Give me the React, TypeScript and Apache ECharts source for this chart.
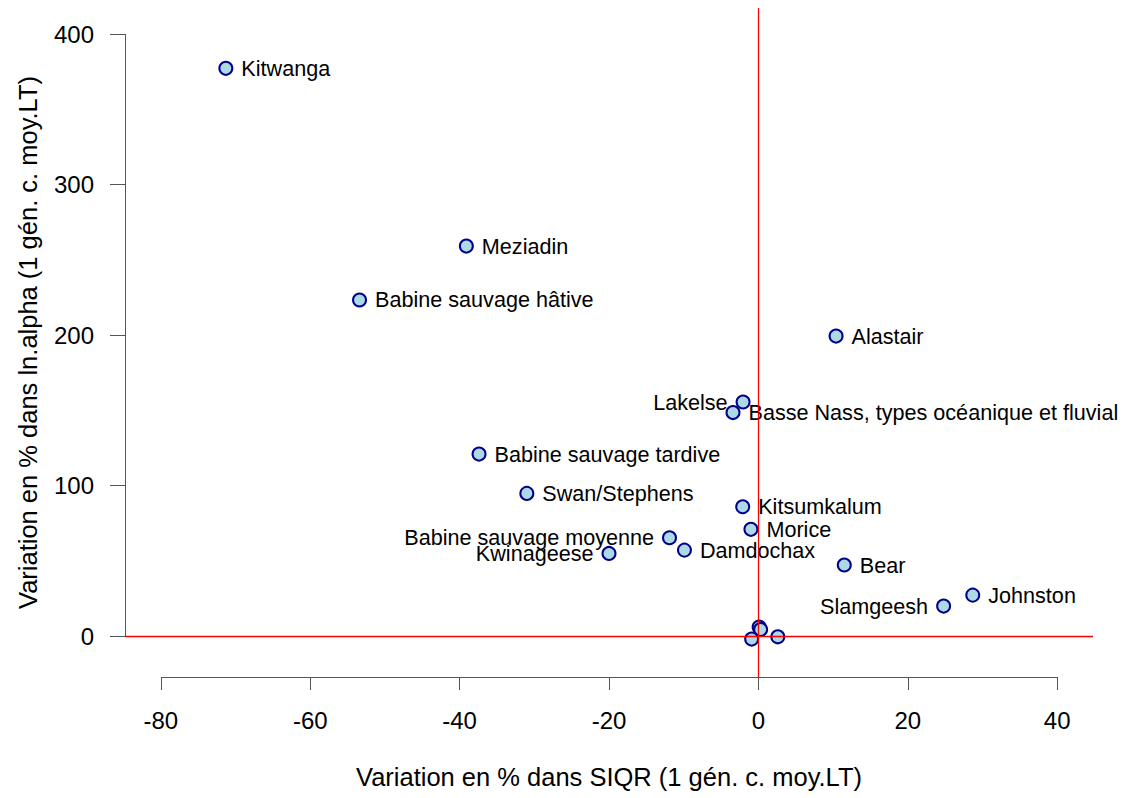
import React, { useEffect, useRef } from "react";
import * as echarts from "echarts";

const NAMES = [
  "Kitwanga",
  "Meziadin",
  "Babine sauvage hâtive",
  "Alastair",
  "Lakelse",
  "Basse Nass, types océanique et fluvial",
  "Babine sauvage tardive",
  "Swan/Stephens",
  "Kitsumkalum",
  "Morice",
  "Babine sauvage moyenne",
  "Kwinageese",
  "Damdochax",
  "Bear",
  "Slamgeesh",
  "Johnston",
  "",
  "",
  "",
  "",
];
const SIQR_CHANGE = [
  -71.3, -39.1, -53.4, 10.4, -2.05, -3.4, -37.4, -31.0, -2.1, -1.0, -11.9, -20.0, -9.9, 11.5, 24.8, 28.7,
  0.1, 0.3, -0.9, 2.6,
];
const ALPHA_CHANGE = [
  377.2, 259.1, 223.3, 199.3, 155.5, 148.5, 120.9, 94.8, 85.9, 70.9, 65.3, 54.9, 57.1, 47.2, 19.9, 27.2,
  6.0, 4.4, -2.0, -0.5,
];
const LABEL_SIDE = [
  "right", "right", "right", "right", "left", "right", "right", "right", "right", "right", "left", "left",
  "right", "right", "left", "right", "right", "right", "right", "right",
];

const X_TICKS = [-80, -60, -40, -20, 0, 20, 40];
const Y_TICKS = [0, 100, 200, 300, 400];
const X_MIN = -84.8;
const X_MAX = 44.8;
const Y_MIN = -27.2;
const Y_MAX = 417.3;

const X_TITLE = "Variation en % dans SIQR (1 gén. c. moy.LT)";
const Y_TITLE = "Variation en % dans ln.alpha (1 gén. c. moy.LT)";

const FONT = "'Liberation Sans', Arial, sans-serif";
const AXIS_COLOR = "#555";

export default function App() {
  const ref = useRef<HTMLDivElement>(null);

  useEffect(() => {
    if (!ref.current) return;
    const chart = echarts.init(ref.current, undefined, { renderer: "svg" });

    const data = NAMES.map((n, i) => ({
      value: [SIQR_CHANGE[i], ALPHA_CHANGE[i]],
      name: n,
      label: { position: LABEL_SIDE[i] },
    }));

    chart.setOption({
      animation: false,
      backgroundColor: "#fff",
      textStyle: { fontFamily: FONT },
      grid: { left: 125, right: 30, top: 8, bottom: 121, containLabel: false },
      xAxis: {
        type: "value",
        min: X_MIN,
        max: X_MAX,
        axisLine: { show: false, onZero: false },
        splitLine: { show: false },
        axisTick: { show: true, customValues: X_TICKS, length: 13, lineStyle: { color: AXIS_COLOR } },
        axisLabel: { customValues: X_TICKS, fontSize: 24, color: "#000", margin: 31, fontFamily: FONT },
        name: X_TITLE,
        nameLocation: "middle",
        nameGap: 87,
        nameTextStyle: { fontSize: 25.5, color: "#000", fontFamily: FONT },
      },
      yAxis: {
        type: "value",
        min: Y_MIN,
        max: Y_MAX,
        axisLine: { show: false, onZero: false },
        splitLine: { show: false },
        axisTick: { show: true, customValues: Y_TICKS, length: 15, lineStyle: { color: AXIS_COLOR } },
        axisLabel: { customValues: Y_TICKS, fontSize: 24, color: "#000", margin: 31, fontFamily: FONT },
        name: Y_TITLE,
        nameLocation: "middle",
        nameGap: 84,
        nameTextStyle: { fontSize: 25.5, color: "#000", fontFamily: FONT },
      },
      series: [
        {
          type: "scatter",
          data: [],
          z: 1,
          clip: false,
          silent: true,
          markLine: {
            silent: true,
            symbol: "none",
            label: { show: false },
            animation: false,
            data: [
              { xAxis: 0, lineStyle: { color: "#ff0000", width: 1.3, type: "solid" } },
              { yAxis: 0, lineStyle: { color: "#ff0000", width: 1.3, type: "solid" } },
              [
                { coord: [X_TICKS[0], Y_MIN], lineStyle: { color: AXIS_COLOR, width: 1, type: "solid" } },
                { coord: [X_TICKS[X_TICKS.length - 1], Y_MIN] },
              ],
              [
                { coord: [X_MIN, Y_TICKS[0]], lineStyle: { color: AXIS_COLOR, width: 1, type: "solid" } },
                { coord: [X_MIN, Y_TICKS[Y_TICKS.length - 1]] },
              ],
            ],
          },
        },
        {
          type: "scatter",
          z: 3,
          clip: false,
          symbol: "circle",
          symbolSize: 13,
          itemStyle: { color: "#ADD8E6", borderColor: "#00008B", borderWidth: 2, opacity: 1 },
          label: {
            show: true,
            formatter: (p: any) => p.name,
            fontSize: 21.6,
            color: "#000",
            fontFamily: FONT,
            distance: 8,
          },
          emphasis: { disabled: true },
          data,
        },
      ],
    });

    return () => chart.dispose();
  }, []);

  return (
    <div
      ref={ref}
      style={{ position: "fixed", left: 0, top: 0, width: 1123, height: 798, background: "#fff" }}
    />
  );
}
